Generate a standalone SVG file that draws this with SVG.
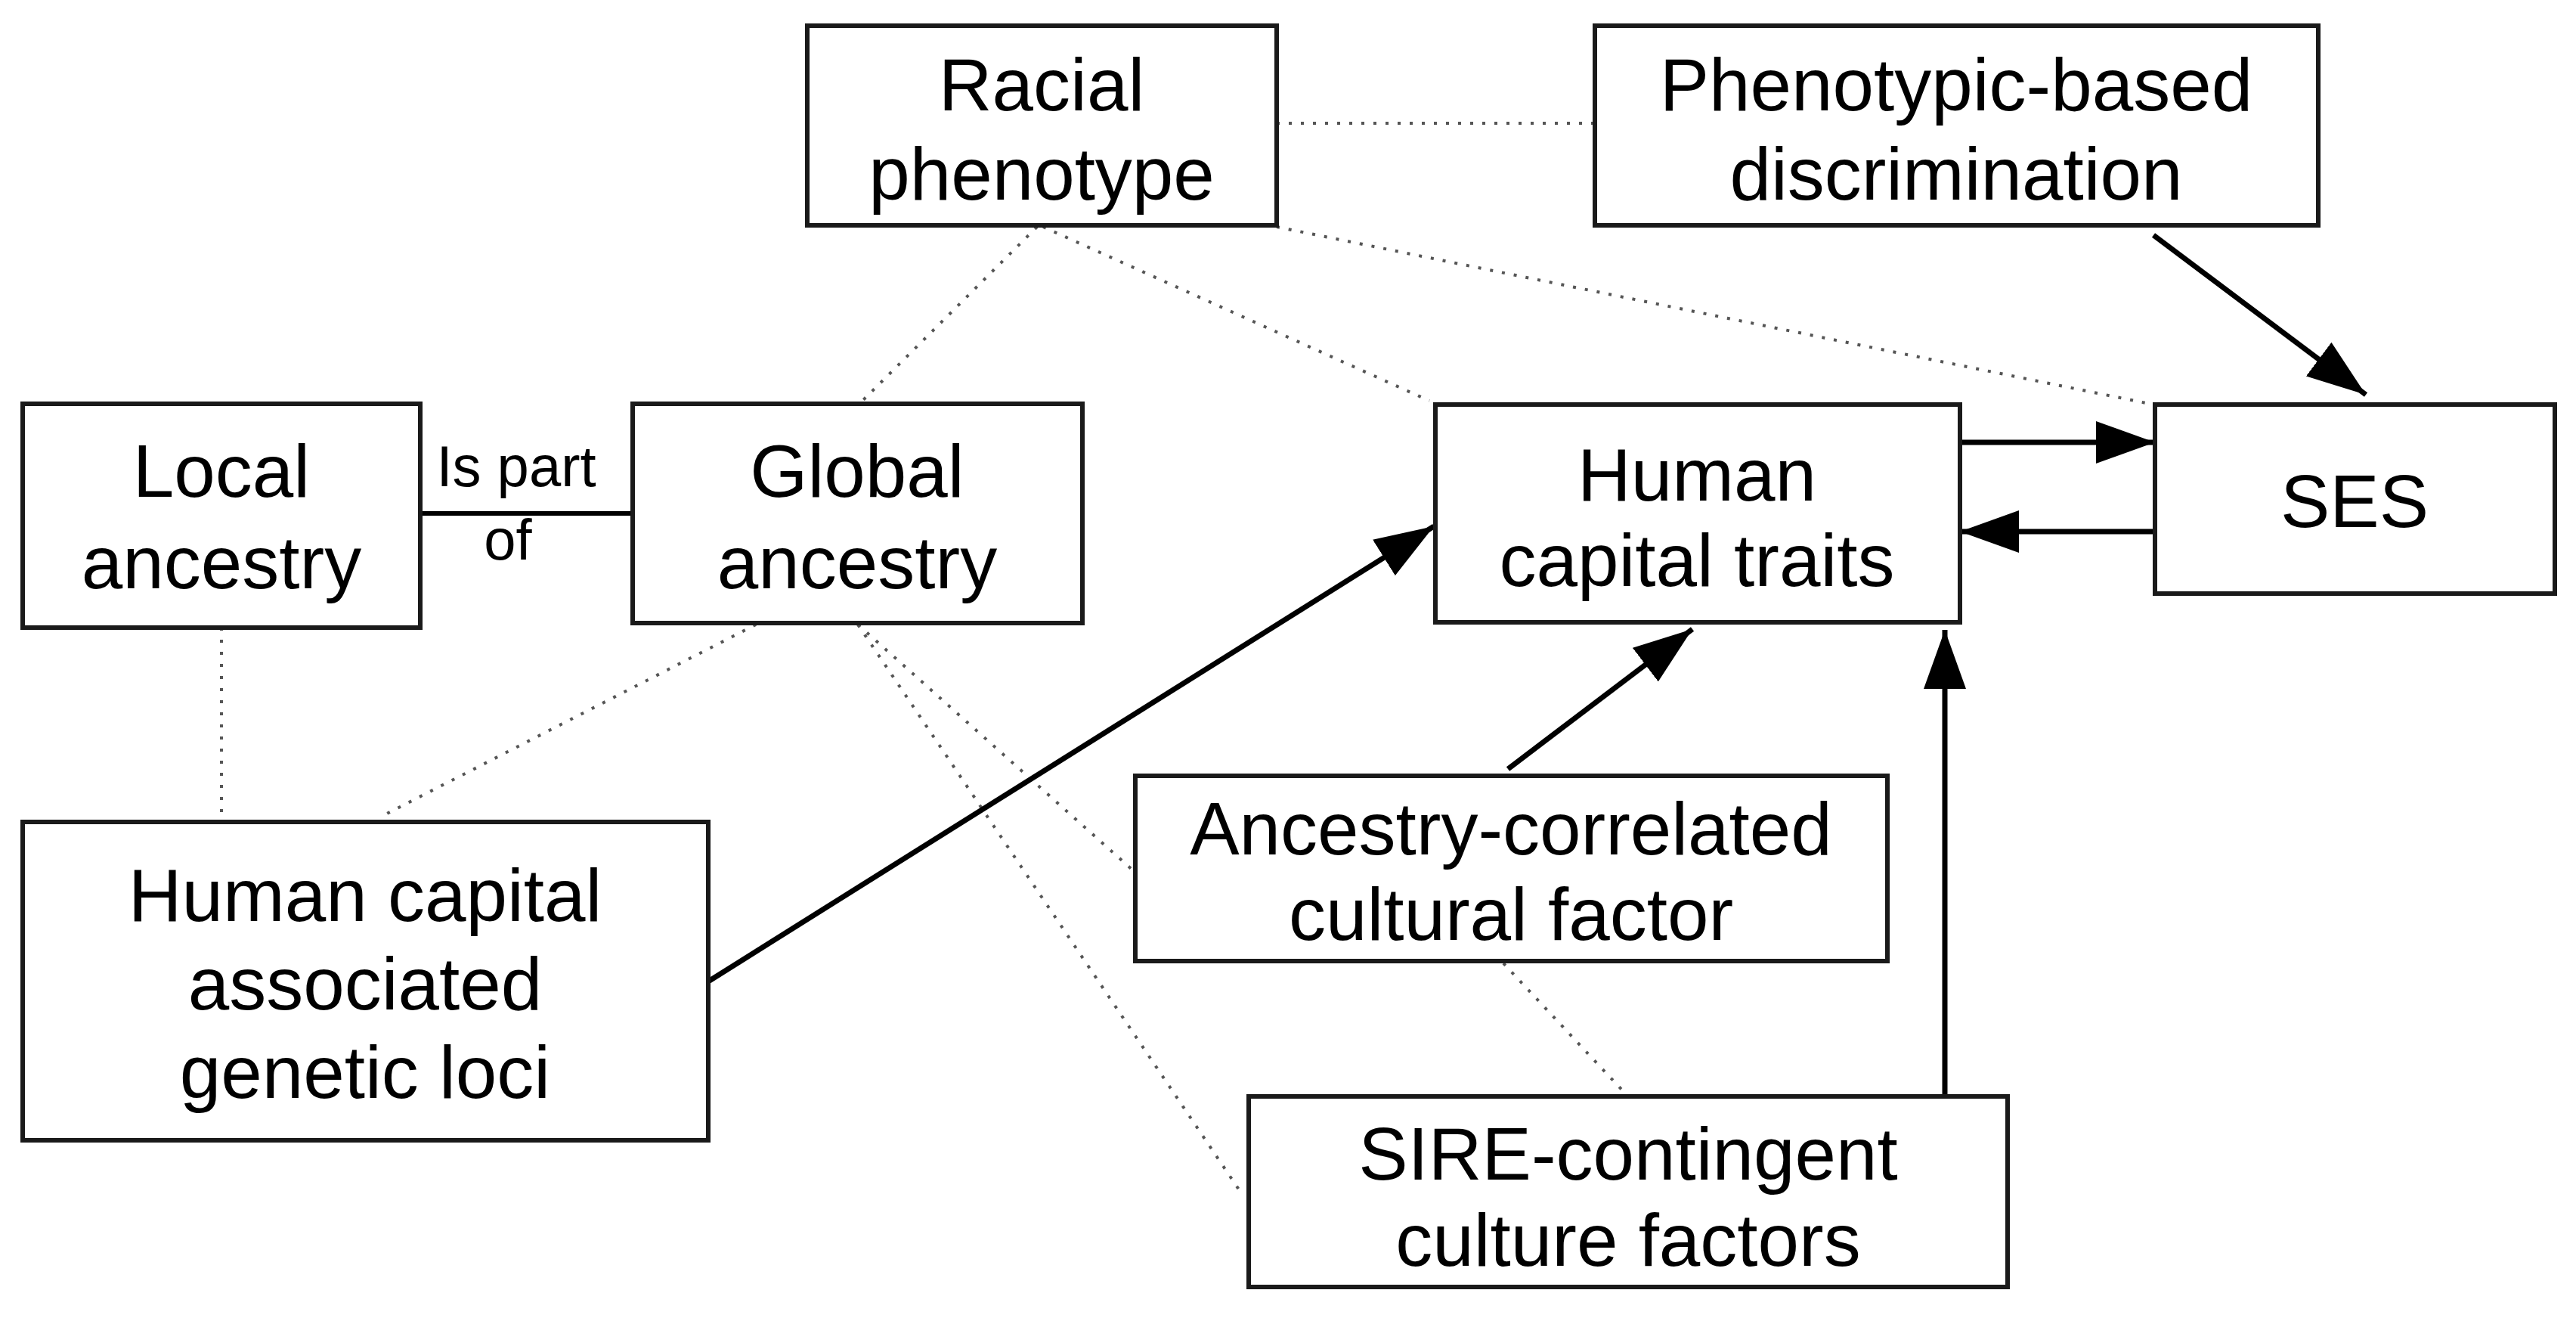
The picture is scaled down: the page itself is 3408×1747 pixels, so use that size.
<svg xmlns="http://www.w3.org/2000/svg" width="3408" height="1747" viewBox="0 0 3408 1747">
<style>
.box{fill:#fff;stroke:#1a1a1a;stroke-width:6}
.t{font-family:"Liberation Sans",Arial,sans-serif;font-size:98px;text-anchor:middle;fill:#000}
.s{font-size:76px}
.dot{stroke:#555;stroke-width:4;stroke-dasharray:4 12;fill:none}
.arr{stroke:#000;stroke-width:7;fill:none;marker-end:url(#ah)}
</style>
<defs>
<marker id="ah" markerUnits="userSpaceOnUse" markerWidth="80" markerHeight="56" refX="78" refY="28" orient="auto">
<path d="M0,0 L78,28 L0,56 Z" fill="#000"/>
</marker>
</defs>
<rect width="3408" height="1747" fill="#fff"/>
<g id="connectors">
<line class="dot" x1="1689" y1="163" x2="2110" y2="163"/>
<line class="dot" x1="1372" y1="300" x2="1137" y2="534"/>
<line class="dot" x1="1380" y1="300" x2="1891" y2="530"/>
<line class="dot" x1="1689" y1="300" x2="2849" y2="535"/>
<line class="dot" x1="293" y1="830" x2="293" y2="1087"/>
<line class="dot" x1="1000" y1="826" x2="504" y2="1080"/>
<line class="dot" x1="1135" y1="826" x2="1500" y2="1152"/>
<line class="dot" x1="1135" y1="826" x2="1641" y2="1576"/>
<line class="dot" x1="1989" y1="1274" x2="2152" y2="1448"/>
<line x1="556" y1="679" x2="837" y2="679" stroke="#000" stroke-width="6"/>
<text class="t s" x="683" y="643">Is part</text>
<text class="t s" x="672" y="740">of</text>
<line class="arr" x1="2849" y1="311" x2="3130" y2="522"/>
<line class="arr" x1="2593" y1="585" x2="2851" y2="585"/>
<line class="arr" x1="2851" y1="703" x2="2593" y2="703"/>
<line class="arr" x1="937" y1="1298" x2="1897" y2="696"/>
<line class="arr" x1="1995" y1="1017" x2="2239" y2="832"/>
<line class="arr" x1="2573" y1="1450" x2="2573" y2="833"/>
</g>
<g id="racial"><rect class="box" x="1068" y="34" width="621" height="264"/>
<text class="t" x="1378" y="146">Racial</text><text class="t" x="1378" y="264">phenotype</text></g>
<g id="discrimination"><rect class="box" x="2110" y="34" width="957" height="264"/>
<text class="t" x="2588" y="146">Phenotypic-based</text><text class="t" x="2588" y="264">discrimination</text></g>
<g id="local"><rect class="box" x="30" y="534" width="526" height="296"/>
<text class="t" x="293" y="657">Local</text><text class="t" x="293" y="778">ancestry</text></g>
<g id="global"><rect class="box" x="837" y="534" width="595" height="290"/>
<text class="t" x="1134" y="657">Global</text><text class="t" x="1134" y="778">ancestry</text></g>
<g id="hct"><rect class="box" x="1899" y="535" width="694" height="288"/>
<text class="t" x="2245" y="662">Human</text><text class="t" x="2245" y="775">capital traits</text></g>
<g id="ses"><rect class="box" x="2851" y="535" width="529" height="250"/>
<text class="t" x="3115" y="697">SES</text></g>
<g id="loci"><rect class="box" x="30" y="1087" width="907" height="421"/>
<text class="t" x="483" y="1218">Human capital</text><text class="t" x="483" y="1335">associated</text><text class="t" x="483" y="1452">genetic loci</text></g>
<g id="acf"><rect class="box" x="1502" y="1026" width="995" height="245"/>
<text class="t" x="1999" y="1130">Ancestry-correlated</text><text class="t" x="1999" y="1243">cultural factor</text></g>
<g id="sire"><rect class="box" x="1652" y="1450" width="1004" height="252"/>
<text class="t" x="2154" y="1560">SIRE-contingent</text><text class="t" x="2154" y="1674">culture factors</text></g>
</svg>
